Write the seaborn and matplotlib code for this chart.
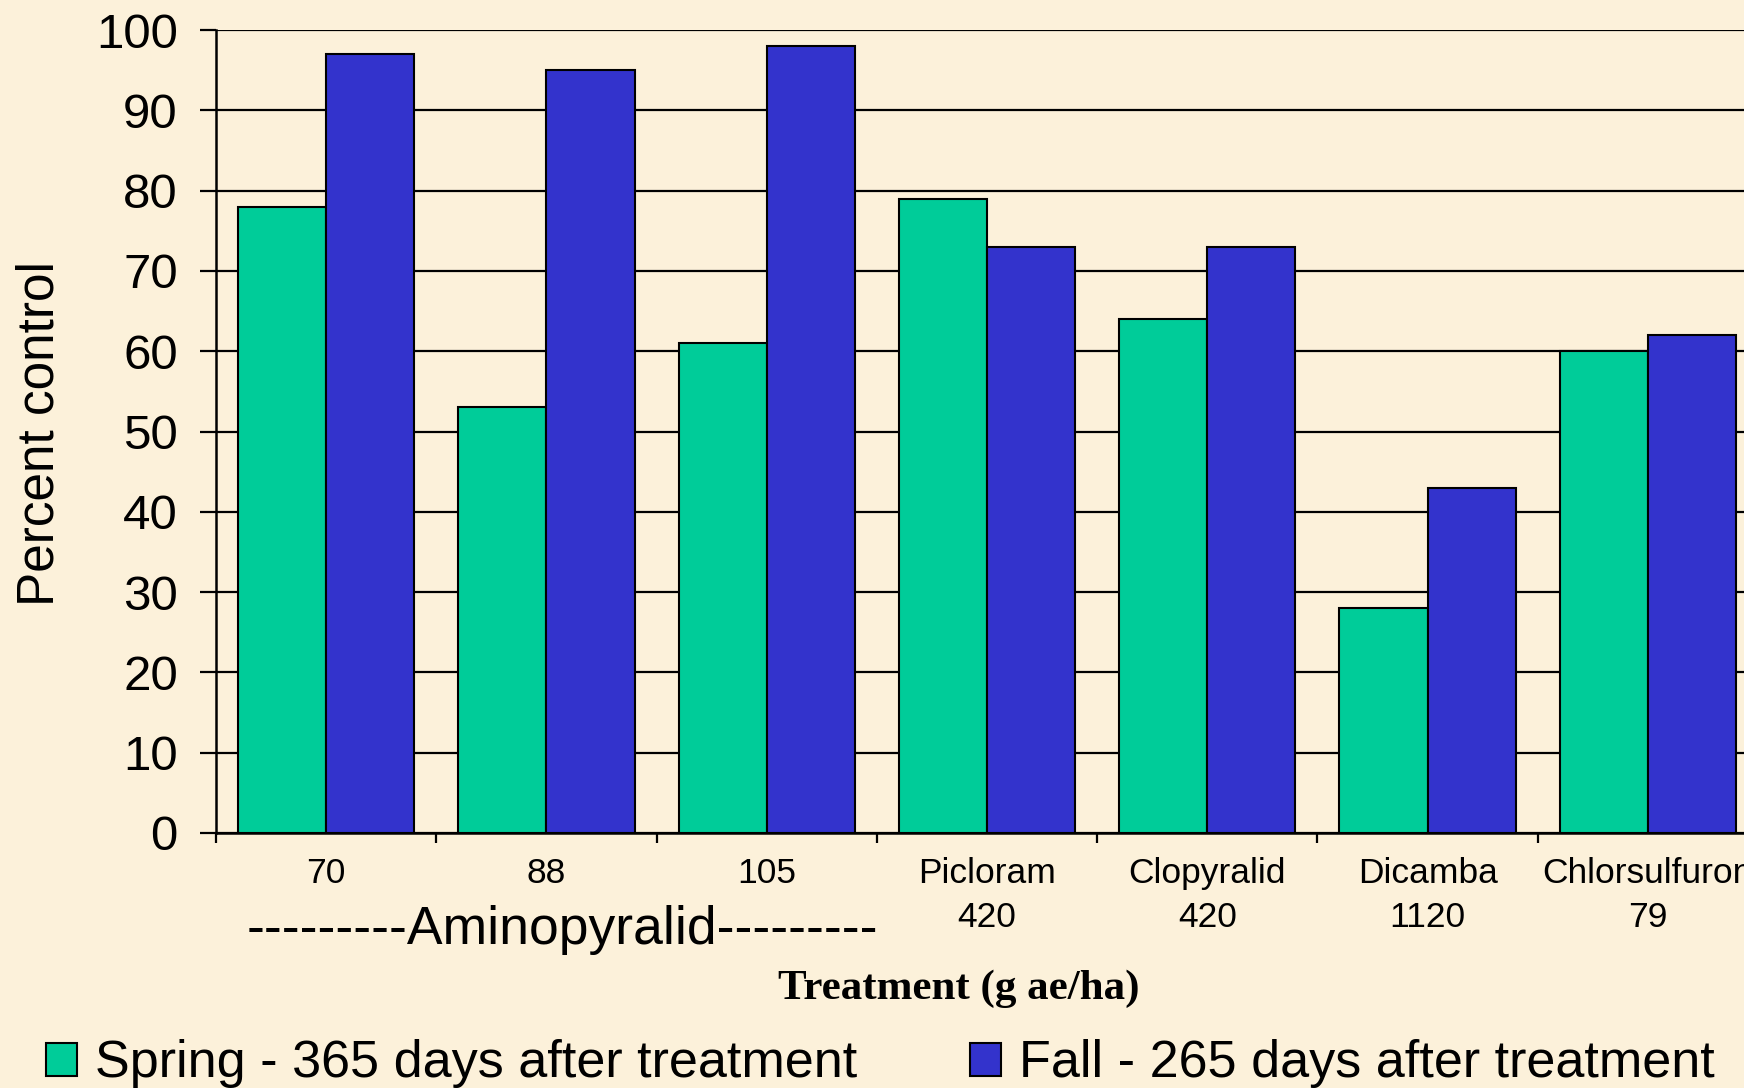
import matplotlib
matplotlib.use('Agg')
import matplotlib.pyplot as plt
from matplotlib.patches import Patch
from matplotlib.ticker import MultipleLocator
import pandas as pd
import seaborn as sns

treatments = ['70', '88', '105', 'Picloram\n420', 'Clopyralid\n420',
              'Dicamba\n1120', 'Chlorsulfuron\n79']
spring = [78, 53, 61, 79, 64, 28, 60]
fall = [97, 95, 98, 73, 73, 43, 62]
series_names = ['Spring - 365 days after treatment',
                'Fall - 265 days after treatment']
colors = ['#00CC99', '#3333CC']

df = pd.DataFrame({
    'treatment': treatments * 2,
    'season': [series_names[0]] * len(spring) + [series_names[1]] * len(fall),
    'value': spring + fall,
})

sns.set_style('white')
plt.rcParams['font.family'] = ['Liberation Sans', 'DejaVu Sans']
plt.rcParams['text.color'] = 'black'
plt.rcParams['xtick.color'] = 'black'
plt.rcParams['ytick.color'] = 'black'
plt.rcParams['xtick.labelcolor'] = 'black'
plt.rcParams['ytick.labelcolor'] = 'black'
bg = '#FCF1DA'

W, H = 1744, 1088
fig = plt.figure(figsize=(W / 100, H / 100), dpi=100, facecolor=bg)
# axes runs off the right edge like the original slide
left, right, top, bottom = 216, 1758, 30, 833
ax = fig.add_axes([left / W, 1 - bottom / H, (right - left) / W, (bottom - top) / H])
ax.set_facecolor(bg)

sns.barplot(data=df, x='treatment', y='value', hue='season', order=treatments,
            hue_order=series_names, palette=colors, saturation=1, width=0.8,
            edgecolor='black', linewidth=1.5, legend=False, ax=ax, zorder=3)

ax.set_ylim(0, 100)
ax.set_xlim(-0.5, len(treatments) - 0.5)
ax.yaxis.set_major_locator(MultipleLocator(10))
ax.grid(axis='y', color='black', linewidth=1.6, zorder=0)
ax.set_axisbelow(True)
for s in ['top', 'right']:
    ax.spines[s].set_visible(False)
for s in ['left', 'bottom']:
    ax.spines[s].set_color('black')
    ax.spines[s].set_linewidth(1.8)

ax.tick_params(axis='y', which='major', direction='out', length=11.5, width=1.6,
               color='black', labelsize=35.5, pad=16, left=True)
ax.set_xticks(range(len(treatments)))
ax.set_xticklabels(treatments)
ax.tick_params(axis='x', which='major', length=0, labelsize=25.5, pad=17)
for lab in ax.get_xticklabels():
    lab.set_linespacing(1.45)
ax.set_xticks([i - 0.5 for i in range(len(treatments) + 1)], minor=True)
ax.tick_params(axis='x', which='minor', direction='out', length=7.5, width=1.6,
               color='black', bottom=True)
ax.set_xlabel('')
ax.set_ylabel('')

fig.text(40 / W, 1 - 434 / H, 'Percent control', rotation=90, fontsize=37,
         ha='center', va='center')
fig.text(562 / W, 1 - 930 / H, '---------Aminopyralid---------', fontsize=38.5,
         ha='center', va='center')
fig.text(959 / W, 1 - 989 / H, 'Treatment (g ae/ha)', fontsize=31,
         family=['Liberation Serif', 'DejaVu Serif'], fontweight='bold',
         ha='center', va='center')

handles = [Patch(facecolor=c, edgecolor='black', linewidth=1.5) for c in colors]
fig.legend(handles, series_names, loc='center left',
           bbox_to_anchor=(46 / W, 1 - 1064 / H), ncol=2, frameon=False,
           fontsize=37.5, handlelength=0.6, handleheight=0.6, handletextpad=0.35,
           columnspacing=2.15, borderaxespad=0, borderpad=0)

fig.savefig('out.png', dpi=100, facecolor=bg)
